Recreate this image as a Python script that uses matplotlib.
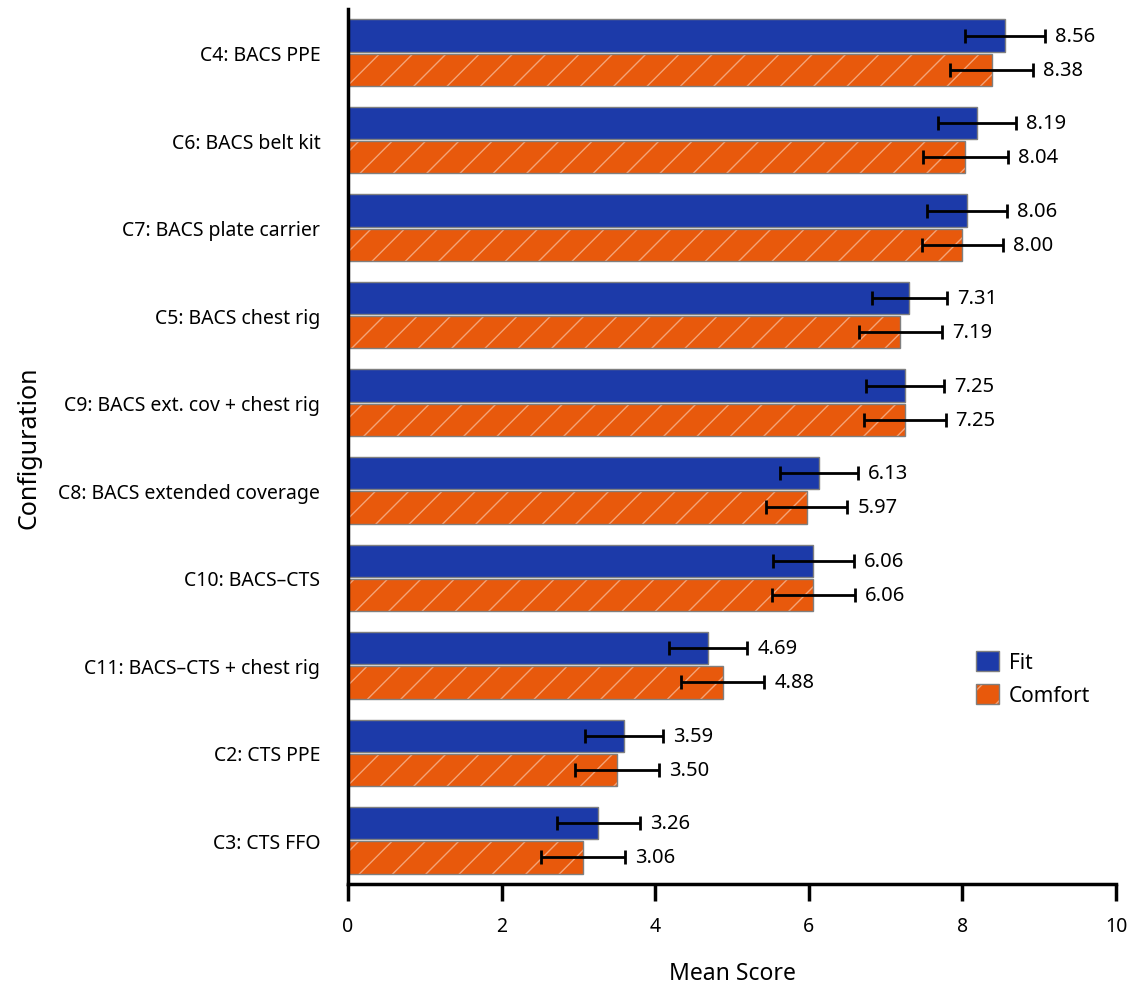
import numpy as np
import matplotlib.pyplot as plt
from matplotlib.patches import Patch

plt.rcParams['font.family'] = ['Noto Sans', 'DejaVu Sans']
plt.rcParams['hatch.linewidth'] = 1.0

configs = ['C4: BACS PPE', 'C6: BACS belt kit', 'C7: BACS plate carrier',
           'C5: BACS chest rig', 'C9: BACS ext. cov + chest rig',
           'C8: BACS extended coverage', 'C10: BACS\u2013CTS',
           'C11: BACS\u2013CTS + chest rig', 'C2: CTS PPE', 'C3: CTS FFO']
fit = [8.56, 8.19, 8.06, 7.31, 7.25, 6.13, 6.06, 4.69, 3.59, 3.26]
comfort = [8.38, 8.04, 8.00, 7.19, 7.25, 5.97, 6.06, 4.88, 3.50, 3.06]
fit_err = [0.52, 0.51, 0.52, 0.49, 0.51, 0.51, 0.53, 0.51, 0.51, 0.54]
comfort_err = [0.54, 0.55, 0.53, 0.54, 0.53, 0.53, 0.54, 0.54, 0.55, 0.55]

fit_col = '#1c3aa9'
comf_col = '#e8590c'
hatch_col = '#f3a478'
edge_col = '#7f7f7f'

fig = plt.figure(figsize=(11.3, 9.87), dpi=100)
ax = fig.add_axes([0.308, 0.1033, 0.6796, 0.8866])

y = np.arange(len(configs))
h = 0.37
off = 0.195

ax.barh(y - off, fit, height=h, color=fit_col, edgecolor=edge_col, linewidth=1)
# hatch takes the edge colour, so fill + hatch first, then the grey outline
ax.barh(y + off, comfort, height=h, color=comf_col, edgecolor=hatch_col,
        linewidth=0, hatch='/')
ax.barh(y + off, comfort, height=h, fill=False, edgecolor=edge_col, linewidth=1)
ax.errorbar(fit, y - off, xerr=fit_err, fmt='none', ecolor='black',
            elinewidth=2, capsize=5, capthick=2)
ax.errorbar(comfort, y + off, xerr=comfort_err, fmt='none', ecolor='black',
            elinewidth=2, capsize=5, capthick=2)

for yi, v, e in zip(y - off, fit, fit_err):
    ax.text(v + e + 0.13, yi, f'{v:.2f}', va='center', ha='left', fontsize=14.5)
for yi, v, e in zip(y + off, comfort, comfort_err):
    ax.text(v + e + 0.13, yi, f'{v:.2f}', va='center', ha='left', fontsize=14.5)

ax.set_xlim(0, 10)
ax.set_ylim(len(configs) - 0.5, -0.5)
ax.set_yticks(y)
ax.set_yticklabels(configs, fontsize=14)
ax.set_xticks(np.arange(0, 11, 2))
ax.tick_params(axis='x', labelsize=14, length=12, width=2.5, pad=11)
ax.tick_params(axis='y', length=0, pad=20)

for s in ['top', 'right']:
    ax.spines[s].set_visible(False)
for s in ['left', 'bottom']:
    ax.spines[s].set_linewidth(2.5)

ax.set_xlabel('Mean Score', fontsize=16.5, labelpad=18)
ax.set_ylabel('Configuration', fontsize=18, labelpad=12)

handles = [Patch(facecolor=fit_col, edgecolor=edge_col, label='Fit'),
           (Patch(facecolor=comf_col, edgecolor=hatch_col, hatch='/', linewidth=0),
            Patch(fill=False, edgecolor=edge_col))]
ax.legend(handles=handles, labels=['Fit', 'Comfort'], loc='center left',
          bbox_to_anchor=(0.793, 0.235), frameon=False, fontsize=15,
          handlelength=1.1, handleheight=1.1, labelspacing=0.55,
          handletextpad=0.5)

fig.savefig('out.png', dpi=100)
